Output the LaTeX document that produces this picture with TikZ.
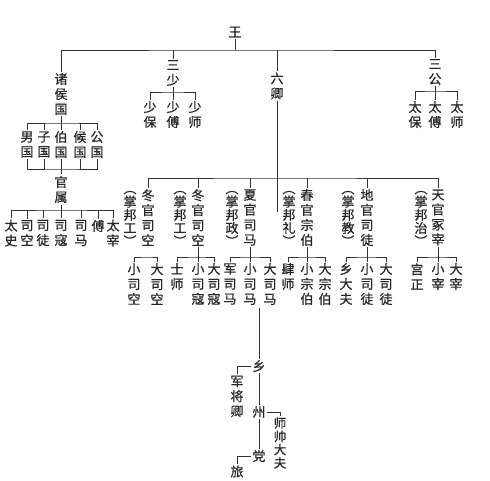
\documentclass[tikz,border=0pt]{standalone}
\usepackage{fontspec}
\newfontfamily\cjk[FakeBold=0.5]{Noto Sans CJK SC}
\begin{document}
\begin{tikzpicture}[x=1pt,y=-1pt,
  v/.style={font=\cjk\fontsize{13}{15}\selectfont, align=center, inner sep=0pt, outer sep=1.5pt, text=black!85},
  vp/.style={font=\cjk\fontsize{13}{13.2}\selectfont, align=center, inner sep=0pt, outer sep=1pt, text=black!85},
  vs/.style={font=\cjk\fontsize{12.5}{13.3}\selectfont, align=center, inner sep=0pt, outer sep=1.5pt, text=black!85},
  ln/.style={draw=black!80, line width=0.9pt}]
\useasboundingbox (0,0) rectangle (490,480);
\fill[white] (0,0) rectangle (490,480);

% top level
\node[v] (wang) at (235,32) {王};
\node[v] (zhu) at (61,94) {诸\\侯\\国};
\node[v] (sanshao) at (173,73) {三\\少};
\node[v] (liuqing) at (277,86) {六\\卿};
\node[v] (sangong) at (435,72) {三\\公};
\coordinate (bar) at (235,50);
\draw[ln] (wang) -- (bar);
\draw[ln] (zhu) |- (bar) -| (sangong);
\draw[ln] (sanshao) -- (sanshao|-bar);
\draw[ln] (liuqing) -- (liuqing|-bar);

% san shao
\node[v] (s1) at (150,114.5) {少\\保};
\node[v] (s2) at (173,114.5) {少\\傅};
\node[v] (s3) at (195,114.5) {少\\师};
\coordinate (sb) at (173,92);
\draw[ln] (sanshao) -- (s2);
\draw[ln] (s1) |- (sb) -| (s3);

% san gong
\node[v] (g1) at (415,114.5) {太\\保};
\node[v] (g2) at (435,114.5) {太\\傅};
\node[v] (g3) at (457,114.5) {太\\师};
\coordinate (gb) at (435,91);
\draw[ln] (sangong) -- (g2);
\draw[ln] (g1) |- (gb) -| (g3);

% zhu hou guo
\node[v] (n1) at (27,144.5) {男\\国};
\node[v] (n2) at (44,144.5) {子\\国};
\node[v] (n3) at (61,144.5) {伯\\国};
\node[v] (n4) at (80,144.5) {候\\国};
\node[v] (n5) at (97,144.5) {公\\国};
\coordinate (zb1) at (61,123);
\coordinate (zb2) at (61,169);
\draw[ln] (zhu) -- (n3);
\draw[ln] (n1) |- (zb1) -| (n5);
\draw[ln] (n2) -- (n2|-zb1);
\draw[ln] (n4) -- (n4|-zb1);
\draw[ln] (n1) |- (zb2) -| (n5);
\draw[ln] (n2) -- (n2|-zb2);
\draw[ln] (n4) -- (n4|-zb2);

\node[v] (gs) at (61,189.5) {官\\属};
\draw[ln] (n3) -- (gs);
\node[v] (o1) at (11,233) {太\\史};
\node[v] (o2) at (27,233) {司\\空};
\node[v] (o3) at (43,233) {司\\徒};
\node[v] (o4) at (61,233) {司\\寇};
\node[v] (o5) at (81,233) {司\\马};
\node[v] (o6) at (98,226) {傅};
\node[v] (o7) at (113,233) {太\\宰};
\coordinate (ob) at (61,210);
\draw[ln] (gs) -- (o4);
\draw[ln] (o1) |- (ob) -| (o7);
\draw[ln] (o2) -- (o2|-ob);
\draw[ln] (o3) -- (o3|-ob);
\draw[ln] (o5) -- (o5|-ob);
\draw[ln] (o6) -- (o6|-ob);

% six ministers
\node[v] (m1) at (148,217.5) {冬\\官\\司\\空};
\node[v] (m2) at (198,217.5) {冬\\官\\司\\空};
\node[v] (m3) at (250,217.5) {夏\\官\\司\\马};
\node[v] (m4) at (307,217.5) {春\\官\\宗\\伯};
\node[v] (m5) at (367,217.5) {地\\官\\司\\徒};
\node[v] (m6) at (438,217.5) {天\\官\\冢\\宰};
\node[vp] (p1) at (130,218.5) {︵\\掌\\邦\\工\\︶};
\node[vp] (p2) at (180,218.5) {︵\\掌\\邦\\工\\︶};
\node[vp] (p3) at (232,218.5) {︵\\掌\\邦\\政\\︶};
\node[vp] (p4) at (289,218.5) {︵\\掌\\邦\\礼\\︶};
\node[vp] (p5) at (348,218.5) {︵\\掌\\邦\\教\\︶};
\node[vp] (p6) at (421,218.5) {︵\\掌\\邦\\治\\︶};
\coordinate (mb) at (277,178);
\coordinate (lqend) at (277,212);
\draw[ln] (liuqing) -- (lqend);
\draw[ln] (m1) |- (mb) -| (m6);
\draw[ln] (m2) -- (m2|-mb);
\draw[ln] (m3) -- (m3|-mb);
\draw[ln] (m4) -- (m4|-mb);
\draw[ln] (m5) -- (m5|-mb);

% col 1
\node[v] (c11) at (134,284) {小\\司\\空};
\node[v] (c12) at (157,284) {大\\司\\空};
\coordinate (b1) at (148,257);
\draw[ln] (c11) |- (b1) -| (c12);
% col 2
\node[v] (c21) at (177,276.5) {士\\师};
\node[v] (c22) at (198,284) {小\\司\\寇};
\node[v] (c23) at (214,284) {大\\司\\寇};
\coordinate (b2) at (198,257);
\draw[ln] (m2) -- (c22);
\draw[ln] (c21) |- (b2) -| (c23);
% col 3
\node[v] (c31) at (230,284) {军\\司\\马};
\node[v] (c32) at (250,284) {小\\司\\马};
\node[v] (c33) at (270,284) {大\\司\\马};
\coordinate (b3) at (250,257);
\draw[ln] (m3) -- (c32);
\draw[ln] (c31) |- (b3) -| (c33);
% col 4
\node[v] (c41) at (288,276.5) {肆\\师};
\node[v] (c42) at (307,284) {小\\宗\\伯};
\node[v] (c43) at (325,284) {大\\宗\\伯};
\coordinate (b4) at (307,257);
\draw[ln] (m4) -- (c42);
\draw[ln] (c41) |- (b4) -| (c43);
% col 5
\node[v] (c51) at (346,284) {乡\\大\\夫};
\node[v] (c52) at (367,284) {小\\司\\徒};
\node[v] (c53) at (386,284) {大\\司\\徒};
\coordinate (b5) at (367,257);
\draw[ln] (m5) -- (c52);
\draw[ln] (c51) |- (b5) -| (c53);
% col 6
\node[v] (c61) at (417,276.5) {宫\\正};
\node[v] (c62) at (438,276.5) {小\\宰};
\node[v] (c63) at (456,276.5) {大\\宰};
\coordinate (b6) at (438,257);
\draw[ln] (m6) -- (c62);
\draw[ln] (c61) |- (b6) -| (c63);

% lower chain
\coordinate (ls) at (259,308);
\node[v] (xiang) at (259,366) {乡};
\node[v] (jjq) at (237,396.5) {军\\将\\卿};
\node[v] (zhou) at (259,412) {州};
\node[vs] (ssdf) at (280,443) {师\\帅\\大\\夫};
\node[v] (dang) at (259,456) {党};
\node[v] (lv) at (237,471.5) {旅};
\draw[ln] (ls) -- (xiang);
\draw[ln] (xiang) -| (jjq);
\draw[ln] (xiang) -- (zhou);
\draw[ln] (zhou) -| (ssdf);
\draw[ln] (zhou) -- (dang);
\draw[ln] (dang) -| (lv);
\end{tikzpicture}
\end{document}
